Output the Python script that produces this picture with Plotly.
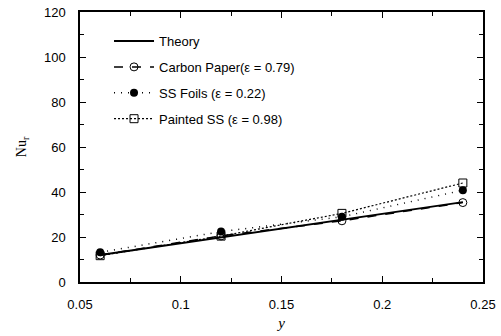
import plotly.graph_objects as go

x_theory = [0.06, 0.24]
nu_theory = [12.0, 35.5]

x_exp = [0.06, 0.12, 0.18, 0.24]
nu_carbon = [12.0, 20.5, 27.2, 35.3]
nu_ssfoil = [13.2, 22.4, 29.0, 40.8]
nu_painted = [11.7, 20.4, 30.5, 44.0]

x_ticks = [0.05, 0.1, 0.15, 0.2, 0.25]
x_ticktext = ["0.05", "0.1", "0.15", "0.2", "0.25"]
y_ticks = [0, 20, 40, 60, 80, 100, 120]

fig = go.Figure()
fig.add_trace(go.Scatter(x=x_theory, y=nu_theory, mode="lines", name="Theory", legendgroup="a",
                         line=dict(color="black", width=2)))
fig.add_trace(go.Scatter(x=x_exp, y=nu_carbon, mode="lines+markers", legendgroup="b",
                         name="Carbon Paper(ε = 0.79)",
                         line=dict(color="black", width=1.5, dash="dash"),
                         marker=dict(symbol="circle-open", size=8, color="black", line=dict(width=1))))
fig.add_trace(go.Scatter(x=x_exp, y=nu_ssfoil, mode="lines+markers", legendgroup="c",
                         name="SS Foils (ε = 0.22)",
                         line=dict(color="black", width=1.5, dash="1px,6px"),
                         marker=dict(symbol="circle", size=8, color="black")))
fig.add_trace(go.Scatter(x=x_exp, y=nu_painted, mode="lines+markers", legendgroup="d",
                         name="Painted SS (ε = 0.98)",
                         line=dict(color="black", width=1.2, dash="2px,2px"),
                         marker=dict(symbol="square-open", size=8, color="black", line=dict(width=1))))

axis_common = dict(showline=True, linecolor="black", linewidth=1.5, mirror="ticks",
                   ticks="inside", ticklen=6, tickcolor="black", showgrid=False, zeroline=False,
                   automargin=False, ticklabeloverflow="allow",
                   tickfont=dict(family="Liberation Sans, Arial", size=13, color="black"))

fig.update_xaxes(range=[0.05, 0.25], tickvals=x_ticks, ticktext=x_ticktext,
                 ticklabelstandoff=10,
                 minor=dict(dtick=0.025, ticks="inside", ticklen=4, tickcolor="black"),
                 title=dict(text="<i>y</i>", font=dict(family="Liberation Serif, Times New Roman", size=15, color="black"),
                            standoff=6),
                 **axis_common)
fig.update_yaxes(range=[0, 120], tickvals=y_ticks,
                 ticklabelstandoff=10,
                 minor=dict(dtick=10, ticks="inside", ticklen=4, tickcolor="black"),
                 title=dict(text="Nu<sub>r</sub>", font=dict(family="Liberation Serif, Times New Roman", size=14, color="black"),
                            standoff=14),
                 **axis_common)

fig.update_layout(
    width=501, height=336,
    margin=dict(l=80, r=18, t=12, b=54),
    plot_bgcolor="white", paper_bgcolor="white",
    font=dict(family="Liberation Sans, Arial", size=13, color="black"),
    legend=dict(x=0.072, y=0.948, xanchor="left", yanchor="top", bgcolor="rgba(0,0,0,0)",
                font=dict(size=13), tracegroupgap=6, itemwidth=40),
)

fig.write_html("out.html", config={"displayModeBar": False},
               post_script="document.body.style.margin='0';document.body.style.overflow='hidden';")
